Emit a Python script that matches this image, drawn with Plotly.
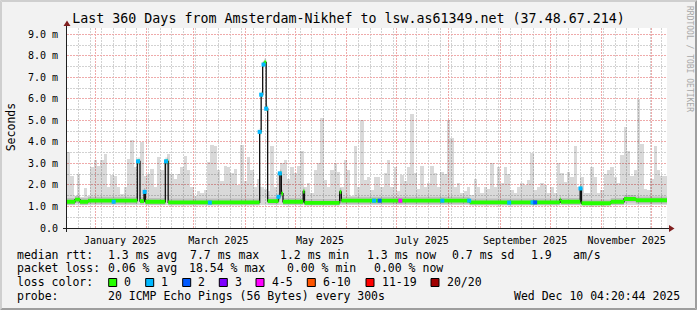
import math
import plotly.graph_objects as go
import pandas as pd

# ---------------- data ----------------
END_TIME = pd.Timestamp("2025-12-10 04:20:44")
SPAN_DAYS = 360
BIN_DAYS = 2
START_TIME = END_TIME - pd.Timedelta(days=SPAN_DAYS)

# max of the ping "smoke" per 2-day bin (ms)
smoke_max_ms = [
    3.55, 2.4, 1.5, 2.5, 1.45, 1.85, 1.5, 2.85, 3.15, 2.9,
    3.15, 3.45, 1.9, 2.45, 2.4, 1.9, 1.6, 1.9, 3.2, 4.1,
    2.85, 3.15, 4.0, 2.4, 2.5, 2.75, 1.9, 3.3, 2.7, 3.15,
    3.45, 2.5, 2.3, 2.5, 2.85, 3.35, 2.7, 1.9, 1.5, 1.7,
    1.65, 1.75, 3.05, 3.85, 3.8, 2.7, 2.2, 2.9, 2.85, 2.55,
    2.75, 2.0, 3.85, 2.2, 3.3, 2.7, 1.92, 2.3, 1.9, 1.8,
    1.7, 3.8, 1.92, 2.54, 3.0, 3.15, 2.3, 2.85, 2.54, 2.9,
    3.6, 1.92, 2.1, 1.61, 2.69, 3.0, 5.1, 2.23, 1.92, 2.69,
    3.0, 2.6, 1.92, 3.15, 2.7, 1.5, 3.8, 1.92, 5.0, 2.23,
    2.38, 1.76, 2.38, 2.38, 1.92, 2.54, 3.15, 1.92, 2.85, 1.7,
    2.45, 2.2, 2.85, 5.3, 2.54, 1.8, 2.9, 1.92, 2.07, 2.9,
    2.54, 1.92, 2.6, 2.5, 5.0, 4.2, 1.9, 2.07, 1.61, 1.7,
    1.92, 1.55, 2.3, 1.92, 1.61, 1.9, 1.8, 3.0, 1.92, 2.85,
    2.07, 2.85, 2.5, 1.76, 1.65, 1.92, 2.1, 2.0, 2.23, 3.5,
    1.76, 1.92, 2.1, 2.0, 1.61, 1.92, 1.61, 3.0, 2.54, 2.15,
    2.6, 2.38, 3.8, 1.92, 2.38, 1.61, 1.61, 2.85, 2.38, 1.61,
    1.76, 2.5, 2.7, 2.85, 2.38, 2.1, 3.4, 4.7, 3.6, 2.4,
    2.7, 6.0, 3.9, 1.8, 1.76, 2.3, 3.8, 2.7, 2.4, 2.4,
]
SMOKE_FLOOR_MS = 1.08

# median rtt, change points (days since start, ms)
median_day = [0, 4.8, 7.8, 12.6, 42.2, 43.8, 46.2, 47.0, 59.0, 60.7,
              115.6, 116.5, 117.4, 118.3, 119.5, 120.4, 126.9, 127.7, 128.6, 129.6,
              141.7, 142.5, 163.6, 164.6, 241.6, 295.7, 296.3, 307.9, 308.7, 326.3,
              334.2, 341.3, 360]
median_ms = [1.22, 1.32, 1.22, 1.27, 3.1, 1.25, 1.68, 1.22, 3.1, 1.19,
             4.47, 6.2, 7.6, 7.7, 5.55, 1.25, 1.45, 2.54, 1.6, 1.22,
             1.7, 1.17, 1.68, 1.27, 1.19, 1.32, 1.22, 1.84, 1.15, 1.22,
             1.35, 1.29, 1.29]

# samples with packet loss (days since start, median ms)
loss1_day = [28.0, 42.6, 46.6, 59.4, 85.7, 115.6, 116.5, 117.9, 119.5, 126.9,
             127.7, 184.2, 225.2, 241.3, 265.3, 279.3, 308.1]
loss1_ms = [1.22, 3.1, 1.68, 3.1, 1.18, 4.47, 6.2, 7.6, 5.55, 1.45,
            2.54, 1.27, 1.27, 1.27, 1.18, 1.19, 1.84]
loss2_day = [187.6, 280.9]
loss2_ms = [1.27, 1.19]
loss5_day = [200.0]
loss5_ms = [1.27]

y_tick_vals = [0, 1, 2, 3, 4, 5, 6, 7, 8, 9]
y_tick_text = ["0.0", "1.0 m", "2.0 m", "3.0 m", "4.0 m", "5.0 m",
               "6.0 m", "7.0 m", "8.0 m", "9.0 m"]
month_labels = ["January 2025", "March 2025", "May 2025", "July 2025",
                "September 2025", "November 2025"]
month_label_dates = ["2025-01-16", "2025-03-16", "2025-05-16", "2025-07-16",
                     "2025-09-16", "2025-11-16"]

title = "Last 360 Days from Amsterdam-Nikhef to lsw.as61349.net (37.48.67.214)"
legend_rows = [
    [("median rtt:", 16), ("1.3 ms avg", 107.3), ("7.7 ms max", 189.3),
     ("1.2 ms min", 279), ("1.3 ms now", 366), ("0.7 ms sd", 451),
     ("1.9", 530), ("am/s", 572)],
    [("packet loss:", 16), ("0.06 % avg", 107.3), ("18.54 % max", 188.3),
     ("0.00 % min", 286), ("0.00 % now", 372.7)],
    [("loss color:", 16)],
    [("probe:", 16), ("20 ICMP Echo Pings (56 Bytes) every 300s", 107.3),
     ("Wed Dec 10 04:20:44 2025", 513.3)],
]
loss_labels = ["0", "1", "2", "3", "4-5", "6-10", "11-19", "20/20"]
loss_colors = ["#26ff00", "#00b8ff", "#0059ff", "#7e00ff", "#ff00ff",
               "#ff5500", "#ff0000", "#a00000"]
loss_box_x = [108.7, 145.7, 182.7, 219.3, 256, 307.3, 366, 431]

# ---------------- layout constants ----------------
W, H = 697, 310
PL, PR, PT, PB = 67, 667, 28, 228
MONO = "DejaVu Sans Mono"
BACK = "#f2f2f2"
SHADE_A = "#cfcfcf"
SHADE_B = "#9e9e9e"
MGRID = "#efaaaa"
GRID = "#d2d2d2"
AXIS = "#1f1f1f"
ARROW = "#801f1f"
Y_MAX = 9.3


def px(x):
    return (x - PL) / (PR - PL)


def py(y):
    return (PB - y) / (PB - PT)


def day_to_time(d):
    return START_TIME + pd.Timedelta(days=d)


fig = go.Figure()

# smoke
bin_centers = [day_to_time((i + 0.5) * BIN_DAYS) for i in range(len(smoke_max_ms))]
fig.add_trace(go.Bar(
    x=bin_centers,
    y=[v - SMOKE_FLOOR_MS for v in smoke_max_ms],
    base=SMOKE_FLOOR_MS,
    width=BIN_DAYS * 86400000,
    marker=dict(color="rgba(0,0,0,0.15)", line=dict(width=0)),
    hoverinfo="skip", showlegend=False,
))

med_t = [day_to_time(d) for d in median_day]

# darker smoke core around the median
fig.add_trace(go.Scatter(x=med_t, y=[v - 0.16 for v in median_ms], mode="lines",
                         line=dict(width=0, shape="hv"), hoverinfo="skip", showlegend=False))
fig.add_trace(go.Scatter(x=med_t, y=[v + 0.18 for v in median_ms], mode="lines",
                         line=dict(width=0, shape="hv"), fill="tonexty",
                         fillcolor="rgba(0,0,0,0.12)", hoverinfo="skip", showlegend=False))

# median line
fig.add_trace(go.Scatter(x=med_t, y=median_ms, mode="lines",
                         line=dict(color="#101010", width=1.3, shape="hv"),
                         hoverinfo="skip", showlegend=False))

# loss colour band (0 loss)
fig.add_trace(go.Scatter(x=med_t, y=[v - 0.09 for v in median_ms], mode="lines",
                         line=dict(width=0, shape="hv"), hoverinfo="skip", showlegend=False))
fig.add_trace(go.Scatter(x=med_t, y=[v + 0.09 for v in median_ms], mode="lines",
                         line=dict(width=0, shape="hv"), fill="tonexty",
                         fillcolor=loss_colors[0], hoverinfo="skip", showlegend=False))

for days, vals, col in [(loss1_day, loss1_ms, loss_colors[1]),
                        (loss2_day, loss2_ms, loss_colors[2]),
                        (loss5_day, loss5_ms, loss_colors[4])]:
    fig.add_trace(go.Scatter(x=[day_to_time(d) for d in days], y=vals, mode="markers",
                             marker=dict(symbol="square", size=4, color=col,
                                         line=dict(width=0)),
                             hoverinfo="skip", showlegend=False))

# dummy trace for label axis
fig.add_trace(go.Scatter(x=[START_TIME, END_TIME], y=[None, None], xaxis="x2",
                         mode="lines", hoverinfo="skip", showlegend=False))

month_starts = pd.date_range("2025-01-01", END_TIME, freq="MS")
week_starts = pd.date_range("2024-12-22", END_TIME, freq="7D")

fig.update_layout(
    width=W, height=H,
    margin=dict(l=PL, r=W - PR, t=PT, b=H - PB, pad=0),
    paper_bgcolor=BACK, plot_bgcolor="white",
    showlegend=False,
    bargap=0,
    title=dict(text=title, x=0.5, xref="container", xanchor="center",
               y=1 - 18.5 / H, yref="container", yanchor="middle",
               font=dict(family=MONO, size=13.3, color="black")),
    xaxis=dict(
        type="date", range=[START_TIME, END_TIME],
        showticklabels=False, ticks="", showgrid=False,
        zeroline=False, showline=False, fixedrange=True,
    ),
    xaxis2=dict(
        type="date", range=[START_TIME, END_TIME], overlaying="x", anchor="y", side="bottom",
        tickmode="array", tickvals=month_label_dates, ticktext=month_labels,
        ticks="outside", ticklen=3, tickcolor="rgba(0,0,0,0)",
        tickfont=dict(family=MONO, size=10, color="black"),
        showgrid=False, zeroline=False, showline=False, fixedrange=True,
    ),
    yaxis=dict(
        range=[0, Y_MAX], tickmode="array", tickvals=y_tick_vals, ticktext=y_tick_text,
        ticks="outside", ticklen=6, tickcolor="rgba(0,0,0,0)",
        tickfont=dict(family=MONO, size=10, color="black"),
        showgrid=False, zeroline=False, showline=False, fixedrange=True,
    ),
)

shapes = []
span_s = (END_TIME - START_TIME).total_seconds()


def x_of_time(t):
    return PL + (pd.Timestamp(t) - START_TIME).total_seconds() / span_s * (PR - PL)


def y_of_val(v):
    return PB - v / Y_MAX * (PB - PT)


def vgrid(t, color, dash):
    xc = math.floor(x_of_time(t)) + 0.5
    return dict(type="line", xref="paper", yref="paper", x0=px(xc), x1=px(xc),
                y0=py(PT), y1=py(PB), line=dict(color=color, width=1, dash=dash),
                layer="below")


def hgrid(v, color, dash):
    yc = math.floor(y_of_val(v)) + 0.5
    return dict(type="line", xref="paper", yref="paper", x0=px(PL), x1=px(PR),
                y0=py(yc), y1=py(yc), line=dict(color=color, width=1, dash=dash),
                layer="below")


# minor grid
for t in week_starts:
    shapes.append(vgrid(t, GRID, "2px,1px"))
for v in y_tick_vals:
    if v + 0.5 < Y_MAX:
        shapes.append(hgrid(v + 0.5, GRID, "2px,1px"))
# major grid
for t in month_starts:
    shapes.append(vgrid(t, MGRID, "2px,1px"))
for v in y_tick_vals:
    shapes.append(hgrid(v, MGRID, "2px,1px"))


def poly(points, color):
    d = "M " + " L ".join(f"{px(x):.5f},{py(y):.5f}" for x, y in points) + " Z"
    return dict(type="path", xref="paper", yref="paper", path=d,
                fillcolor=color, line=dict(width=0), layer="above")


# 3D frame
shapes.append(poly([(0, 0), (W, 0), (W - 2, 2), (2, 2)], SHADE_A))
shapes.append(poly([(0, 0), (2, 2), (2, H - 2), (0, H)], SHADE_A))
shapes.append(poly([(0, H), (W, H), (W - 2, H - 2), (2, H - 2)], SHADE_B))
shapes.append(poly([(W, 0), (W, H), (W - 2, H - 2), (W - 2, 2)], SHADE_B))

# axes + arrows
shapes.append(dict(type="line", xref="paper", yref="paper",
                   x0=px(PL - 4), x1=px(PR + 4), y0=py(PB + 0.5), y1=py(PB + 0.5),
                   line=dict(color=AXIS, width=1), layer="above"))
shapes.append(dict(type="line", xref="paper", yref="paper",
                   x0=px(PL - 0.5), x1=px(PL - 0.5), y0=py(PB + 4), y1=py(PT - 4),
                   line=dict(color=AXIS, width=1), layer="above"))
shapes.append(poly([(PR + 2, PB - 3), (PR + 2, PB + 4), (PR + 7.5, PB + 0.5)], ARROW))
shapes.append(poly([(PL - 3.5, PT - 2), (PL + 3.5, PT - 2), (PL, PT - 7.5)], ARROW))

# loss colour legend boxes
for bx, col in zip(loss_box_x, loss_colors):
    shapes.append(dict(type="rect", xref="paper", yref="paper",
                       x0=px(bx), x1=px(bx + 8), y0=py(278.5), y1=py(286.5),
                       fillcolor=col, line=dict(color="black", width=1), layer="above"))

fig.update_layout(shapes=shapes)

ann = []
row_y = [254.7, 268.3, 282.3, 296.0]
for row, yc in zip(legend_rows, row_y):
    for text, x0 in row:
        ann.append(dict(text=text, x=px(x0), y=py(yc), xref="paper", yref="paper",
                        xanchor="left", yanchor="middle", showarrow=False, borderpad=0,
                        font=dict(family=MONO, size=11.5, color="black")))
for lab, bx in zip(loss_labels, loss_box_x):
    ann.append(dict(text=lab, x=px(bx + 14.6), y=py(row_y[2]), xref="paper", yref="paper",
                    xanchor="left", yanchor="middle", showarrow=False, borderpad=0,
                    font=dict(family=MONO, size=11.5, color="black")))
ann.append(dict(text="Seconds", x=px(10.8), y=py(127.5), xref="paper", yref="paper",
                xanchor="center", yanchor="middle", textangle=-90, showarrow=False,
                borderpad=0, font=dict(family=MONO, size=11.5, color="black")))
ann.append(dict(text="RRDTOOL / TOBI OETIKER", x=px(690), y=py(59), xref="paper", yref="paper",
                xanchor="center", yanchor="middle", textangle=90, showarrow=False,
                borderpad=0, font=dict(family=MONO, size=8, color="#a8a8a8")))
fig.update_layout(annotations=ann)

fig.write_html("out.html")
